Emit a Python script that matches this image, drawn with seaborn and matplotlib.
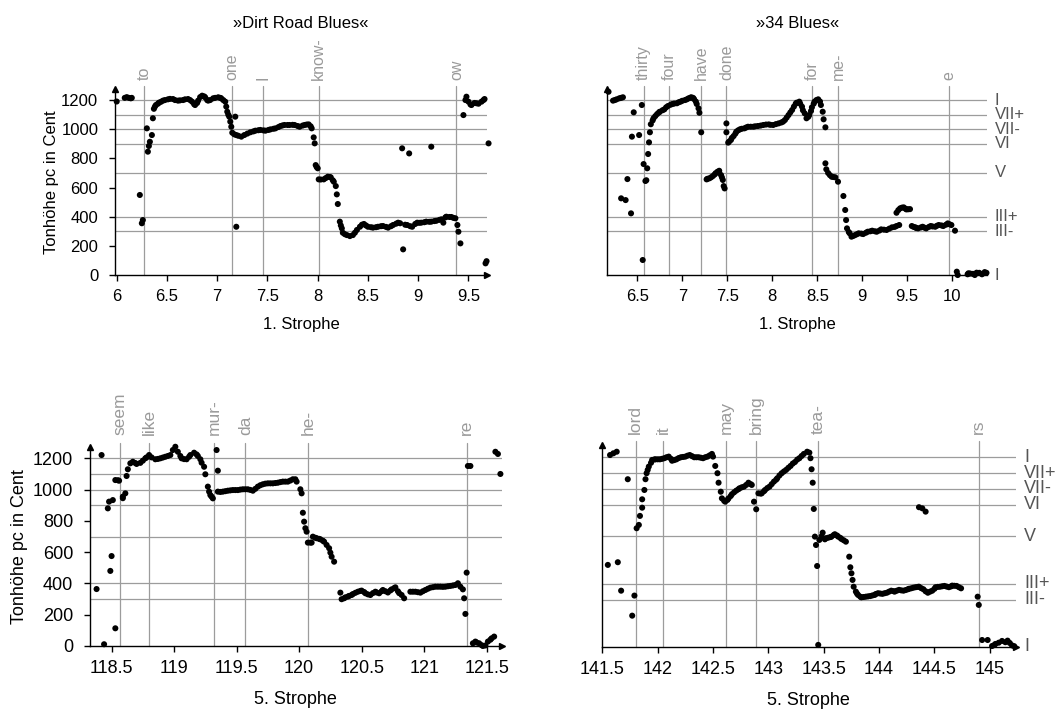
import numpy as np
import pandas as pd
import seaborn as sns
import matplotlib
matplotlib.use('Agg')
import matplotlib.pyplot as plt
import matplotlib.transforms as mtransforms
from matplotlib.ticker import FuncFormatter

sns.set_style('white')
plt.rcParams['font.family'] = ['Liberation Sans', 'DejaVu Sans']
plt.rcParams['text.color'] = 'black'
plt.rcParams['axes.labelcolor'] = 'black'
plt.rcParams['xtick.color'] = 'black'
plt.rcParams['ytick.color'] = 'black'

# pitch measurements: (time in s, pitch class in cent)
dirt_1 = [
    (6.00, 1190), (6.08, 1215), (6.10, 1220), (6.12, 1215), (6.14, 1212), (6.15, 1215),
    (6.23, 549), (6.25, 355), (6.26, 377), (6.30, 1006), (6.31, 846), (6.32, 885),
    (6.33, 914), (6.35, 960), (6.36, 1075), (6.37, 1140), (6.38, 1155), (6.39, 1166),
    (6.41, 1175), (6.42, 1182), (6.44, 1188), (6.46, 1196), (6.48, 1200), (6.51, 1205),
    (6.53, 1208), (6.56, 1207), (6.58, 1200), (6.61, 1196), (6.63, 1198), (6.66, 1200),
    (6.68, 1205), (6.71, 1207), (6.73, 1200), (6.75, 1189), (6.77, 1172), (6.78, 1166),
    (6.80, 1180), (6.81, 1196), (6.83, 1220), (6.85, 1230), (6.87, 1225), (6.88, 1219),
    (6.90, 1200), (6.91, 1196), (6.93, 1200), (6.96, 1212), (6.98, 1215), (7.01, 1219),
    (7.03, 1215), (7.04, 1212), (7.06, 1200), (7.08, 1189), (7.09, 1155), (7.10, 1120),
    (7.11, 1100), (7.12, 1086), (7.13, 1052), (7.14, 1017), (7.15, 976), (7.18, 1086),
    (7.19, 331), (7.17, 965), (7.19, 960), (7.21, 955), (7.24, 949), (7.27, 960),
    (7.30, 970), (7.33, 979), (7.36, 985), (7.38, 990), (7.41, 993), (7.43, 995),
    (7.46, 992), (7.48, 990), (7.51, 995), (7.53, 999), (7.56, 1003), (7.58, 1006),
    (7.61, 1015), (7.63, 1022), (7.65, 1026), (7.67, 1029), (7.70, 1029), (7.72, 1029),
    (7.75, 1030), (7.77, 1029), (7.80, 1022), (7.82, 1017), (7.85, 1025), (7.87, 1029),
    (7.89, 1032), (7.91, 1033), (7.93, 1020), (7.94, 1006), (7.96, 944), (7.97, 903),
    (7.98, 754), (7.99, 740), (8.00, 732), (8.01, 656), (8.03, 655), (8.06, 656),
    (8.08, 665), (8.10, 674), (8.12, 672), (8.13, 670), (8.15, 650), (8.16, 640),
    (8.18, 610), (8.19, 553), (8.20, 487), (8.22, 366), (8.23, 340), (8.24, 320),
    (8.25, 290), (8.27, 280), (8.29, 274), (8.32, 267), (8.35, 274), (8.37, 290),
    (8.39, 309), (8.42, 331), (8.44, 345), (8.46, 350), (8.48, 340), (8.50, 331),
    (8.53, 328), (8.55, 325), (8.58, 328), (8.60, 331), (8.63, 335), (8.65, 336),
    (8.68, 330), (8.70, 325), (8.73, 335), (8.75, 343), (8.78, 352), (8.80, 359),
    (8.82, 355), (8.84, 869), (8.85, 176), (8.87, 345), (8.89, 343), (8.91, 834),
    (8.92, 335), (8.94, 331), (8.97, 350), (8.99, 359), (9.01, 358), (9.03, 359),
    (9.06, 362), (9.08, 366), (9.11, 365), (9.13, 880), (9.13, 366), (9.16, 370),
    (9.18, 372), (9.21, 378), (9.23, 382), (9.25, 359), (9.27, 395), (9.28, 400),
    (9.31, 398), (9.33, 398), (9.35, 392), (9.37, 389), (9.39, 343), (9.40, 297),
    (9.42, 217), (9.45, 1097), (9.47, 1200), (9.48, 1223), (9.50, 1189), (9.52, 1170),
    (9.53, 1166), (9.56, 1180), (9.58, 1178), (9.60, 1175), (9.63, 1189), (9.65, 1200),
    (9.66, 1207), (9.67, 80), (9.68, 95), (9.70, 903),
]

blues_1 = [
    (6.18, 1257), (6.23, 1196), (6.25, 1200), (6.27, 1205), (6.30, 1212), (6.32, 1215),
    (6.34, 1219), (6.32, 526), (6.37, 514), (6.39, 658), (6.43, 423), (6.44, 949),
    (6.46, 1116), (6.52, 960), (6.55, 1166), (6.56, 103), (6.57, 761), (6.59, 645),
    (6.60, 650), (6.61, 732), (6.62, 830), (6.63, 910), (6.64, 979), (6.65, 1034),
    (6.67, 1060), (6.68, 1075), (6.70, 1090), (6.72, 1104), (6.74, 1115), (6.75, 1120),
    (6.78, 1130), (6.80, 1136), (6.82, 1150), (6.84, 1159), (6.87, 1168), (6.89, 1173),
    (6.91, 1176), (6.94, 1178), (6.96, 1185), (6.98, 1189), (7.00, 1195), (7.03, 1200),
    (7.05, 1205), (7.07, 1212), (7.09, 1216), (7.10, 1219), (7.12, 1215), (7.13, 1207),
    (7.15, 1190), (7.16, 1173), (7.18, 1143), (7.19, 1113), (7.21, 979), (7.27, 656),
    (7.28, 660), (7.30, 663), (7.32, 670), (7.34, 679), (7.36, 690), (7.37, 698),
    (7.39, 708), (7.41, 715), (7.43, 686), (7.44, 670), (7.45, 652), (7.46, 610),
    (7.47, 594), (7.49, 1040), (7.49, 979), (7.51, 908), (7.52, 915), (7.54, 926),
    (7.55, 940), (7.57, 953), (7.59, 970), (7.60, 983), (7.62, 992), (7.64, 999),
    (7.66, 1003), (7.69, 1006), (7.71, 1012), (7.73, 1017), (7.76, 1017), (7.79, 1017),
    (7.81, 1020), (7.84, 1022), (7.87, 1025), (7.90, 1029), (7.93, 1032), (7.96, 1033),
    (7.98, 1030), (8.01, 1029), (8.04, 1035), (8.07, 1040), (8.10, 1046), (8.12, 1052),
    (8.14, 1063), (8.16, 1080), (8.18, 1097), (8.20, 1115), (8.22, 1132), (8.24, 1155),
    (8.26, 1175), (8.27, 1182), (8.30, 1189), (8.31, 1175), (8.33, 1155), (8.34, 1130),
    (8.36, 1109), (8.38, 1075), (8.40, 1085), (8.41, 1097), (8.43, 1125), (8.44, 1150),
    (8.46, 1175), (8.47, 1189), (8.49, 1200), (8.51, 1205), (8.53, 1190), (8.54, 1166),
    (8.56, 1120), (8.57, 1068), (8.59, 1013), (8.59, 766), (8.60, 725), (8.62, 700),
    (8.64, 685), (8.66, 674), (8.68, 672), (8.70, 670), (8.73, 640), (8.79, 542),
    (8.81, 446), (8.82, 377), (8.83, 320), (8.85, 295), (8.86, 286), (8.88, 263),
    (8.90, 268), (8.92, 274), (8.94, 280), (8.96, 286), (8.99, 284), (9.01, 281),
    (9.04, 290), (9.06, 297), (9.09, 300), (9.11, 304), (9.14, 300), (9.16, 297),
    (9.19, 305), (9.21, 313), (9.24, 311), (9.27, 309), (9.30, 318), (9.33, 327),
    (9.36, 330), (9.38, 336), (9.41, 343), (9.38, 427), (9.40, 445), (9.42, 457),
    (9.44, 462), (9.46, 464), (9.48, 455), (9.49, 450), (9.51, 451), (9.53, 452),
    (9.55, 336), (9.57, 330), (9.59, 327), (9.60, 322), (9.62, 320), (9.65, 326),
    (9.67, 331), (9.69, 325), (9.71, 320), (9.74, 330), (9.76, 336), (9.78, 333),
    (9.81, 331), (9.83, 338), (9.85, 343), (9.88, 340), (9.90, 336), (9.93, 345),
    (9.95, 354), (9.97, 348), (9.99, 343), (10.03, 304), (10.05, 23), (10.06, 0),
    (10.17, 5), (10.18, 12), (10.20, 10), (10.23, 8), (10.25, 0), (10.27, 16),
    (10.30, 15), (10.33, 5), (10.36, 20), (10.38, 15),
]

dirt_5 = [
    (118.38, 364), (118.42, 1221), (118.44, 11), (118.47, 880), (118.48, 923), (118.49, 480),
    (118.50, 575), (118.51, 933), (118.53, 113), (118.53, 1061), (118.55, 1060), (118.56, 1057),
    (118.59, 945), (118.59, 955), (118.61, 976), (118.62, 1087), (118.63, 1130), (118.65, 1168),
    (118.67, 1178), (118.69, 1170), (118.70, 1164), (118.73, 1171), (118.75, 1185), (118.77, 1200),
    (118.78, 1206), (118.80, 1221), (118.82, 1206), (118.85, 1194), (118.87, 1196), (118.89, 1200),
    (118.91, 1205), (118.93, 1210), (118.95, 1215), (118.97, 1221), (118.99, 1253), (119.01, 1274),
    (119.03, 1242), (119.05, 1215), (119.06, 1200), (119.08, 1195), (119.10, 1194), (119.12, 1210),
    (119.13, 1221), (119.16, 1236), (119.18, 1225), (119.19, 1215), (119.21, 1194), (119.22, 1172),
    (119.24, 1146), (119.25, 1098), (119.27, 1019), (119.28, 987), (119.29, 965), (119.30, 955),
    (119.31, 944), (119.34, 1253), (119.35, 1121), (119.35, 987), (119.37, 985), (119.39, 987),
    (119.41, 990), (119.43, 993), (119.45, 995), (119.47, 997), (119.49, 997), (119.51, 997),
    (119.53, 1000), (119.55, 1002), (119.57, 1002), (119.59, 1002), (119.61, 998), (119.63, 993),
    (119.65, 1005), (119.67, 1019), (119.69, 1028), (119.71, 1034), (119.73, 1038), (119.75, 1040),
    (119.77, 1040), (119.79, 1040), (119.81, 1042), (119.83, 1044), (119.85, 1048), (119.87, 1051),
    (119.89, 1051), (119.91, 1051), (119.93, 1058), (119.95, 1066), (119.97, 1066), (119.98, 1051),
    (120.01, 1002), (120.02, 976), (120.03, 852), (120.04, 795), (120.05, 753), (120.06, 731),
    (120.07, 661), (120.09, 661), (120.10, 661), (120.11, 699), (120.13, 692), (120.14, 689),
    (120.16, 685), (120.17, 682), (120.19, 673), (120.20, 667), (120.22, 646), (120.24, 625),
    (120.25, 597), (120.26, 571), (120.28, 539), (120.33, 341), (120.34, 299), (120.36, 305),
    (120.37, 311), (120.39, 316), (120.40, 320), (120.42, 326), (120.43, 332), (120.45, 340),
    (120.47, 347), (120.49, 352), (120.50, 354), (120.52, 345), (120.53, 337), (120.55, 330),
    (120.57, 326), (120.59, 338), (120.61, 347), (120.62, 342), (120.64, 337), (120.66, 350),
    (120.67, 358), (120.69, 350), (120.71, 342), (120.73, 355), (120.74, 362), (120.76, 370),
    (120.77, 375), (120.79, 350), (120.80, 338), (120.82, 326), (120.84, 305), (120.89, 347),
    (120.91, 347), (120.93, 347), (120.95, 344), (120.97, 341), (120.99, 350), (121.01, 358),
    (121.03, 366), (121.05, 373), (121.07, 376), (121.09, 379), (121.11, 379), (121.13, 379),
    (121.15, 378), (121.17, 379), (121.19, 382), (121.21, 384), (121.23, 387), (121.25, 390),
    (121.27, 401), (121.29, 379), (121.31, 362), (121.32, 305), (121.33, 205), (121.34, 469),
    (121.35, 1151), (121.37, 1151), (121.39, 17), (121.41, 28), (121.42, 22), (121.44, 17),
    (121.46, 5), (121.47, 0), (121.49, 3), (121.51, 28), (121.53, 40), (121.54, 49),
    (121.56, 60), (121.57, 1242), (121.59, 1228), (121.61, 1100),
]

blues_5 = [
    (141.57, 1214), (141.60, 1225), (141.63, 1235), (141.55, 519), (141.64, 536), (141.67, 356),
    (141.73, 1061), (141.77, 198), (141.79, 325), (141.81, 751), (141.83, 772), (141.84, 829),
    (141.86, 881), (141.86, 934), (141.88, 993), (141.89, 1061), (141.90, 1099), (141.91, 1120),
    (141.92, 1141), (141.94, 1165), (141.95, 1183), (141.97, 1186), (141.98, 1187), (142.00, 1187),
    (142.02, 1187), (142.04, 1190), (142.06, 1194), (142.08, 1200), (142.10, 1204), (142.12, 1190),
    (142.13, 1178), (142.15, 1182), (142.17, 1187), (142.19, 1195), (142.21, 1200), (142.23, 1202),
    (142.25, 1204), (142.27, 1210), (142.29, 1214), (142.31, 1207), (142.33, 1200), (142.35, 1200),
    (142.37, 1200), (142.39, 1197), (142.41, 1194), (142.43, 1200), (142.45, 1204), (142.47, 1212),
    (142.49, 1221), (142.50, 1204), (142.52, 1145), (142.54, 1099), (142.55, 1039), (142.57, 982),
    (142.58, 940), (142.60, 925), (142.61, 919), (142.63, 930), (142.64, 940), (142.66, 955),
    (142.67, 966), (142.69, 978), (142.71, 989), (142.73, 998), (142.74, 1004), (142.76, 1010),
    (142.78, 1014), (142.80, 1025), (142.82, 1039), (142.84, 1030), (142.85, 1025), (142.87, 919),
    (142.89, 871), (142.91, 972), (142.93, 970), (142.94, 972), (142.96, 985), (142.97, 993),
    (142.99, 1005), (143.01, 1014), (143.03, 1030), (143.05, 1046), (143.07, 1058), (143.08, 1067),
    (143.10, 1085), (143.12, 1099), (143.14, 1110), (143.16, 1120), (143.18, 1133), (143.20, 1145),
    (143.22, 1160), (143.24, 1170), (143.26, 1185), (143.28, 1194), (143.30, 1208), (143.32, 1221),
    (143.35, 1235), (143.37, 1229), (143.38, 1194), (143.39, 1124), (143.40, 1039), (143.41, 873),
    (143.42, 698), (143.43, 645), (143.44, 512), (143.45, 13), (143.46, 677), (143.48, 700),
    (143.49, 723), (143.51, 681), (143.52, 688), (143.54, 691), (143.56, 695), (143.57, 698),
    (143.59, 708), (143.60, 713), (143.62, 705), (143.63, 698), (143.65, 690), (143.66, 683),
    (143.68, 675), (143.70, 666), (143.73, 571), (143.74, 504), (143.75, 466), (143.76, 424),
    (143.77, 381), (143.79, 350), (143.80, 338), (143.81, 329), (143.83, 318), (143.84, 314),
    (143.86, 316), (143.88, 318), (143.90, 320), (143.92, 322), (143.94, 326), (143.96, 329),
    (143.97, 335), (143.99, 340), (144.01, 338), (144.03, 336), (144.05, 340), (144.07, 343),
    (144.09, 350), (144.11, 356), (144.13, 353), (144.14, 350), (144.16, 356), (144.18, 361),
    (144.20, 358), (144.22, 356), (144.24, 360), (144.26, 365), (144.27, 368), (144.29, 371),
    (144.31, 375), (144.33, 378), (144.35, 380), (144.36, 381), (144.38, 372), (144.40, 365),
    (144.42, 352), (144.44, 343), (144.46, 350), (144.48, 356), (144.50, 368), (144.51, 378),
    (144.53, 380), (144.55, 381), (144.57, 384), (144.59, 386), (144.61, 382), (144.63, 378),
    (144.65, 383), (144.66, 388), (144.68, 387), (144.70, 386), (144.72, 378), (144.74, 371),
    (144.36, 884), (144.39, 877), (144.42, 856), (144.89, 318), (144.90, 266), (144.93, 44),
    (144.98, 44), (145.02, 6), (145.04, 12), (145.05, 19), (145.08, 27), (145.11, 38),
    (145.14, 30), (145.16, 40), (145.18, 25), (145.20, 10), (145.22, 5),
]

# syllables and their onsets (vertical markers)
dirt_1_words = ['to', 'one', 'I', 'know-', 'ow']
dirt_1_onsets = [6.27, 7.15, 7.46, 8.01, 9.38]
blues_1_words = ['thirty', 'four', 'have', 'done', 'for', 'me-', 'e']
blues_1_onsets = [6.57, 6.85, 7.21, 7.49, 8.44, 8.73, 9.965]
dirt_5_words = ['seem', 'like', 'mur-', 'da', 'he-', 're']
dirt_5_onsets = [118.57, 118.80, 119.32, 119.57, 120.07, 121.34]
blues_5_words = ['lord', 'it', 'may', 'bring', 'tea-', 'rs']
blues_5_onsets = [141.80, 142.05, 142.62, 142.89, 143.45, 144.90]

dirt_1_ticks = [6, 6.5, 7, 7.5, 8, 8.5, 9, 9.5]
blues_1_ticks = [6.5, 7, 7.5, 8, 8.5, 9, 9.5, 10]
dirt_5_ticks = [118.5, 119, 119.5, 120, 120.5, 121, 121.5]
blues_5_ticks = [141.5, 142, 142.5, 143, 143.5, 144, 144.5, 145]

song_titles = ['»Dirt Road Blues«', '»34 Blues«']
strophe_labels = ['1. Strophe', '5. Strophe']
y_label = 'Tonhöhe pc in Cent'
y_ticks = [0, 200, 400, 600, 800, 1000, 1200]
ref_cents = [300, 400, 700, 900, 1000, 1100, 1200]
degree_labels = ['I', 'VII+', 'VII-', 'VI', 'V', 'III+', 'III-', 'I']
degree_cents = [1200, 1100, 1000, 900, 700, 400, 300, 0]

GRID = '#9c9c9c'
WORD = '#9a9a9a'

fig = plt.figure(figsize=(10.57, 7.09), dpi=100)


def draw_panel(rect, pts, words, onsets, xlim, xticks, xlabel, fs,
               left_axis=True, degrees=False, title=None, x_arrow=True,
               word_y=1.05, line_top=1.018):
    ax = fig.add_axes(rect)
    df = pd.DataFrame(pts, columns=['zeit', 'cent'])
    for c in ref_cents:
        ax.axhline(c, color=GRID, lw=0.9, zorder=1)
    for x in onsets:
        ax.axvline(x, ymin=0, ymax=line_top, color=GRID, lw=0.9, zorder=1, clip_on=False)
    sns.scatterplot(data=df, x='zeit', y='cent', ax=ax, color='black', s=19,
                    edgecolor='none', linewidth=0, zorder=3, clip_on=False, legend=False)
    ax.set_xlim(*xlim)
    ax.set_ylim(0, 1275)
    for w, x in zip(words, onsets):
        ax.text(x, word_y, w, transform=ax.get_xaxis_transform(), rotation=90,
                ha='center', va='bottom', color=WORD, fontsize=fs - 0.5)

    for s in ['top', 'right']:
        ax.spines[s].set_visible(False)
    for s in ['left', 'bottom']:
        ax.spines[s].set_color('black')
        ax.spines[s].set_linewidth(1.0)
    ax.set_xticks(xticks)
    ax.xaxis.set_major_formatter(FuncFormatter(lambda v, p: '%g' % v))
    ax.tick_params(axis='x', bottom=True, direction='out', length=4, width=1,
                   pad=6, labelsize=fs, color='black', labelcolor='black')
    ax.set_xlabel(xlabel, fontsize=fs, color='black')
    ax.xaxis.set_label_coords(0.5, -0.225)

    if left_axis:
        ax.set_yticks(y_ticks)
        ax.tick_params(axis='y', left=True, direction='out', length=4, width=1,
                       pad=8, labelsize=fs, color='black', labelcolor='black')
        ax.set_ylabel(y_label, fontsize=fs, color='black')
        ax.yaxis.set_label_coords(-0.151, 0.5)
    else:
        ax.set_yticks([])
        ax.set_ylabel('')

    if degrees:
        trans = mtransforms.blended_transform_factory(ax.transAxes, ax.transData)
        for lab, c in zip(degree_labels, degree_cents):
            ax.text(1.02, c, lab, transform=trans, ha='left', va='center',
                    color='#555555', fontsize=fs)

    # axis arrows
    ax.plot([0], [1], marker='^', color='black', ms=5, transform=ax.transAxes,
            clip_on=False, zorder=4)
    if x_arrow:
        ax.plot([1], [0], marker='>', color='black', ms=5, transform=ax.transAxes,
                clip_on=False, zorder=4)

    if title:
        pos = ax.get_position()
        fig.text((pos.x0 + pos.x1) / 2, 1 - 23 / 709, title, ha='center', va='center',
                 fontsize=fs, color='black')
    return ax


draw_panel([0.1088, 0.6121, 0.3517, 0.2622], dirt_1, dirt_1_words, dirt_1_onsets,
           (5.983, 9.682), dirt_1_ticks, strophe_labels[0], 12,
           title=song_titles[0], word_y=1.048, line_top=1.016)
draw_panel([0.5746, 0.6121, 0.3592, 0.2622], blues_1, blues_1_words, blues_1_onsets,
           (6.167, 10.386), blues_1_ticks, strophe_labels[0], 12,
           left_axis=False, degrees=True, title=song_titles[1], x_arrow=False,
           word_y=1.048, line_top=1.016)
draw_panel([0.0851, 0.0889, 0.3895, 0.2812], dirt_5, dirt_5_words, dirt_5_onsets,
           (118.327, 121.62), dirt_5_ticks, strophe_labels[1], 13,
           word_y=1.058, line_top=1.02)
draw_panel([0.5693, 0.0875, 0.3920, 0.2843], blues_5, blues_5_words, blues_5_onsets,
           (141.495, 145.237), blues_5_ticks, strophe_labels[1], 13,
           left_axis=False, degrees=True, word_y=1.058, line_top=1.02)

fig.savefig('out.png', dpi=100)
